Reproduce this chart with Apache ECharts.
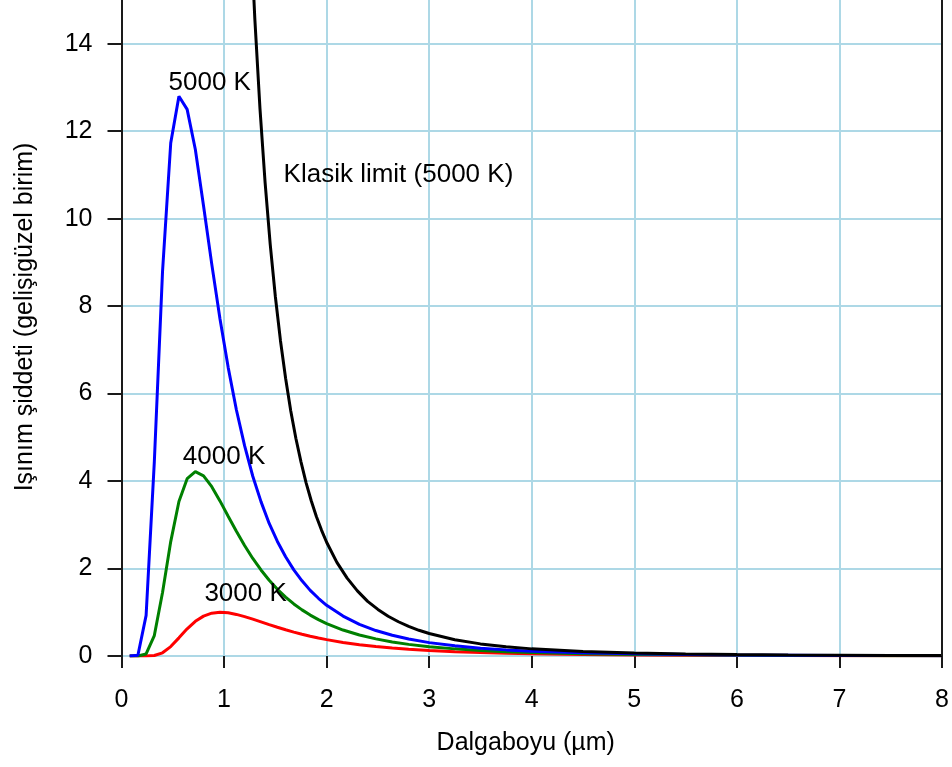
<!DOCTYPE html>
<html>
<head>
<meta charset="utf-8">
<script src="https://cdn.jsdelivr.net/npm/echarts@6/dist/echarts.min.js"></script>
<style>
html,body{margin:0;padding:0;background:#fff;}
#chart{width:952px;height:767px;}
</style>
</head>
<body>
<div id="chart"></div>
<script>
// Wavelength (µm)
const wavelengths = [0.08,0.16,0.24,0.32,0.40,0.48,0.56,0.64,0.72,0.80,0.88,0.96,1.04,1.12,1.20,1.28,1.36,1.44,1.52,1.60,1.68,1.76,1.84,1.92,2.00,2.16,2.32,2.48,2.64,2.80,3.00,3.25,3.50,3.75,4.00,4.50,5.00,5.50,6.00,6.50,7.00,7.50,8.00];
// Radiation intensity (arbitrary units)
const intensity5000 = [0,0.018,0.93,4.44,8.79,11.73,12.80,12.50,11.58,10.29,8.96,7.71,6.60,5.63,4.81,4.11,3.53,3.03,2.62,2.27,1.97,1.72,1.50,1.32,1.16,0.913,0.725,0.582,0.473,0.388,0.306,0.232,0.179,0.140,0.111,0.072,0.049,0.035,0.025,0.019,0.014,0.011,0.008];
const intensity4000 = [0,0,0.047,0.468,1.454,2.616,3.534,4.054,4.214,4.119,3.871,3.547,3.197,2.852,2.527,2.231,1.967,1.733,1.527,1.348,1.191,1.055,0.936,0.833,0.742,0.594,0.480,0.391,0.321,0.266,0.213,0.163,0.127,0.100,0.080,0.053,0.036,0.026,0.019,0.014,0.011,0.008,0.006];
const intensity3000 = [0,0,0,0.011,0.073,0.215,0.415,0.621,0.793,0.912,0.979,1.000,0.987,0.951,0.901,0.842,0.780,0.717,0.657,0.600,0.546,0.497,0.452,0.411,0.374,0.310,0.258,0.216,0.181,0.153,0.125,0.098,0.078,0.062,0.051,0.034,0.024,0.017,0.013,0.010,0.007,0.006,0.004];
// Classical (Rayleigh-Jeans) limit at 5000 K
const classicalWavelengths = [1.20,1.25,1.30,1.35,1.40,1.45,1.50,1.55,1.60,1.65,1.70,1.75,1.80,1.85,1.90,1.95,2.00,2.10,2.20,2.30,2.40,2.50,2.60,2.70,2.80,2.90,3.00,3.25,3.50,3.75,4.00,4.50,5.00,5.50,6.00,6.50,7.00,7.50,8.00];
const classical5000 = [20.06,17.04,14.57,12.52,10.83,9.41,8.22,7.21,6.35,5.61,4.98,4.44,3.96,3.55,3.19,2.88,2.60,2.14,1.78,1.49,1.25,1.065,0.910,0.783,0.677,0.588,0.514,0.373,0.277,0.210,0.163,0.101,0.067,0.046,0.032,0.023,0.017,0.013,0.010];
const xTicks = [0,1,2,3,4,5,6,7,8];
const yTicks = [0,2,4,6,8,10,12,14];

const zip = (xs, ys) => xs.map((w,i) => [w, ys[i]]);
const FONT = '"Liberation Sans", Arial, sans-serif';
const FS = 25;
const NOTE_FS = 26;
const gridColor = '#add8e6';
const axisColor = '#1a1a1a';

function note(text, coord) {
  return {
    silent: true,
    animation: false,
    data: [{
      coord: coord,
      symbol: 'circle',
      symbolSize: 2,
      itemStyle: {color: 'rgba(0,0,0,0)'},
      label: {show: true, position: 'inside', formatter: text, color: '#000', fontSize: NOTE_FS, fontFamily: FONT}
    }]
  };
}

const chart = echarts.init(document.getElementById('chart'), null, {renderer: 'canvas'});
chart.setOption({
  animation: false,
  backgroundColor: '#fff',
  grid: {left: 121.5, right: 10, top: 0, bottom: 111, containLabel: false},
  xAxis: {
    type: 'value', min: 0, max: 8, interval: 1,
    name: 'Dalgaboyu (µm)', nameLocation: 'middle', nameGap: 75,
    nameTextStyle: {fontSize: FS, fontFamily: FONT, color: '#000', padding: [0, 12, 0, 0]},
    axisLine: {show: false},
    axisTick: {show: true, length: 12, inside: false, lineStyle: {color: axisColor, width: 2}},
    axisLabel: {fontSize: FS, fontFamily: FONT, color: '#000', margin: 32,
      formatter: v => xTicks.includes(v) ? String(v) : ''},
    splitLine: {show: true, lineStyle: {color: gridColor, width: 2}}
  },
  yAxis: {
    type: 'value', min: 0, max: 15, interval: 2, position: 'left',
    name: 'Işınım şiddeti (gelişigüzel birim)', nameLocation: 'middle', nameGap: 84, nameRotate: 90,
    nameTextStyle: {fontSize: FS, fontFamily: FONT, color: '#000', padding: [0, 0, 0, 22]},
    axisLine: {show: true, lineStyle: {color: axisColor, width: 2}},
    axisTick: {show: true, length: 14, inside: false, lineStyle: {color: axisColor, width: 2}},
    axisLabel: {fontSize: FS, fontFamily: FONT, color: '#000', margin: 29, showMaxLabel: false,
      formatter: v => yTicks.includes(v) ? String(v) : ''},
    splitLine: {show: true, showMaxLine: false, lineStyle: {color: gridColor, width: 2}}
  },
  series: [
    {name: '3000 K', type: 'line', data: zip(wavelengths, intensity3000), showSymbol: false, symbol: 'none',
      lineStyle: {color: '#ff0000', width: 3}, clip: true,
      markPoint: note('3000 K', [1.21, 1.42])},
    {name: '4000 K', type: 'line', data: zip(wavelengths, intensity4000), showSymbol: false, symbol: 'none',
      lineStyle: {color: '#008000', width: 3}, clip: true,
      markPoint: note('4000 K', [1.0, 4.55])},
    {name: '5000 K', type: 'line', data: zip(wavelengths, intensity5000), showSymbol: false, symbol: 'none',
      lineStyle: {color: '#0000ff', width: 3}, clip: true,
      markPoint: note('5000 K', [0.86, 13.1])},
    {name: 'Klasik limit (5000 K)', type: 'line', data: zip(classicalWavelengths, classical5000), showSymbol: false, symbol: 'none',
      lineStyle: {color: '#000000', width: 3}, clip: true,
      markPoint: note('Klasik limit (5000 K)', [2.70, 11.0]),
      markLine: {silent: true, symbol: 'none', animation: false,
        lineStyle: {color: axisColor, width: 2, type: 'solid'}, label: {show: false},
        data: [{xAxis: 8}]}}
  ]
});
</script>
</body>
</html>
